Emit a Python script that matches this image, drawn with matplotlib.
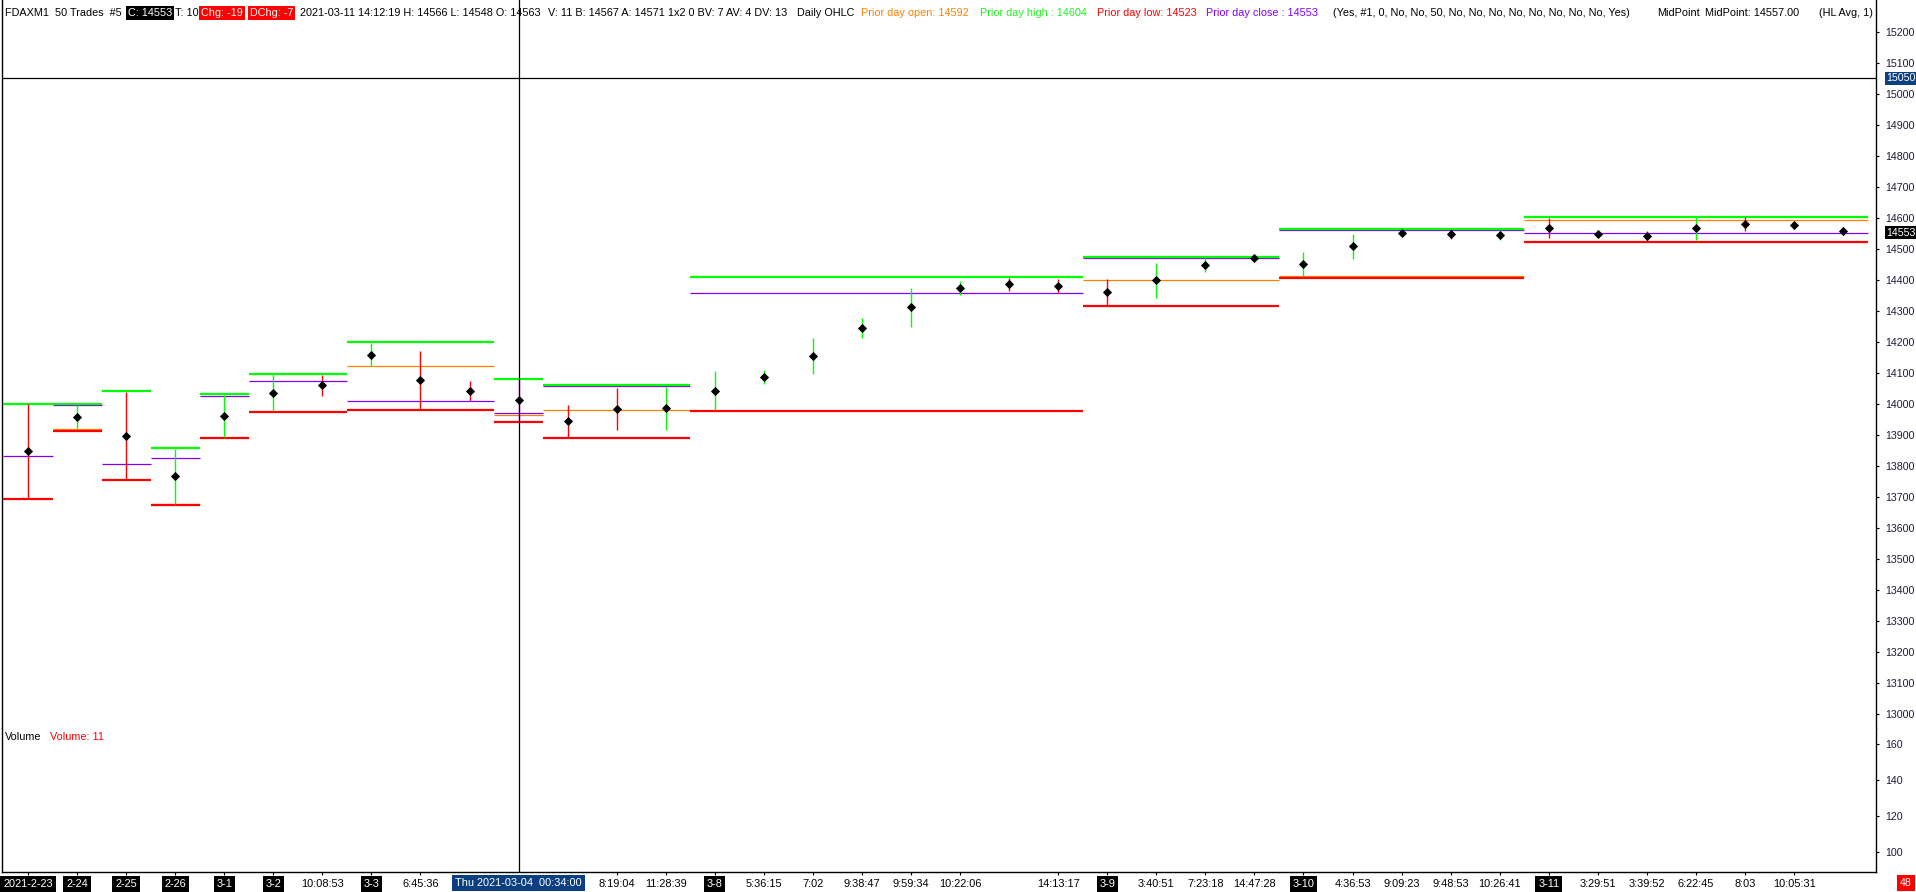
import numpy as np
import matplotlib.pyplot as plt

W, H = 1916, 892
plt.rcParams['font.family'] = ['Liberation Sans', 'DejaVu Sans']
FS = 7.7       # axis labels
FS_HEAD = 7.85  # header line

# daily "prior day" OHLC levels, one entry per session
day_names = ['2-23', '2-24', '2-25', '2-26', '3-1', '3-2', '3-3', '3-4', '3-5', '3-8', '3-9', '3-10', '3-11']
day_bars = [1, 1, 1, 1, 1, 2, 3, 1, 3, 8, 4, 5, 7]
prior_high = [14001, 14001, 14043, 13858, 14032, 14098, 14199, 14082, 14060, 14411, 14475, 14565, 14604]
prior_low = [13695, 13914, 13755, 13674, 13890, 13975, 13982, 13943, 13891, 13976, 14317, 14406, 14523]
prior_close = [13831, 13996, 13805, 13825, 14025, 14073, 14009, 13970, 14057, 14357, 14470, 14560, 14553]
prior_open = [np.nan, 13918, np.nan, 13678, np.nan, np.nan, 14122, 13963, 13980, np.nan, 14399, 14412, 14592]

# 50-trade bars
bar_high = [13999, 13996, 14040, 13856, 14030, 14096, 14094, 14196, 14171, 14074,
            14082, 13996, 14052, 14056, 14106, 14110, 14213, 14277, 14374, 14397,
            14408, 14403, 14403, 14455, 14472, 14476, 14490, 14548, 14557, 14566,
            14562, 14599, 14554, 14559, 14604, 14602, 14588, 14566]
bar_low = [13695, 13918, 13756, 13677, 13892, 13976, 14027, 14123, 13983, 14009,
           13943, 13893, 13917, 13917, 13980, 14066, 14098, 14213, 14249, 14352,
           14363, 14357, 14317, 14342, 14425, 14468, 14413, 14469, 14549, 14532,
           14530, 14536, 14544, 14526, 14529, 14558, 14565, 14548]
bar_dir = ['d', 'u', 'd', 'u', 'u', 'u', 'd', 'u', 'd', 'd',
           'm', 'd', 'd', 'u', 'u', 'u', 'u', 'u', 'u', 'u',
           'd', 'd', 'd', 'u', 'u', 'u', 'u', 'u', 'u', 'd',
           'u', 'd', 'u', 'd', 'u', 'd', 'd', 'd']

# bottom axis labels (bar index, text)
tick_pos = [0, 1, 2, 3, 4, 5, 6, 7, 8, 12, 13, 14, 15, 16, 17, 18, 19, 21,
            22, 23, 24, 25, 26, 27, 28, 29, 30, 31, 32, 33, 34, 35, 36]
tick_txt = ['2021-2-23', '2-24', '2-25', '2-26', '3-1', '3-2', '10:08:53', '3-3', '6:45:36',
            '8:19:04', '11:28:39', '3-8', '5:36:15', '7:02', '9:38:47', '9:59:34', '10:22:06',
            '14:13:17', '3-9', '3:40:51', '7:23:18', '14:47:28', '3-10', '4:36:53', '9:09:23',
            '9:48:53', '10:26:41', '3-11', '3:29:51', '3:39:52', '6:22:45', '8:03', '10:05:31']

price_ticks = list(range(13000, 15201, 100))
vol_ticks = [100, 120, 140, 160]
cross_bar = 10
cross_price = 15050
last_price = 14553

GREEN, RED, PURPLE, ORANGE = '#00ff00', '#ff0000', '#8000ff', '#ff8000'

fig = plt.figure(figsize=(W / 100, H / 100), dpi=100)
ax = fig.add_axes([2 / W, (H - 728) / H, 1874 / W, 728 / H])
axv = fig.add_axes([2 / W, (H - 872) / H, 1874 / W, 144 / H], sharex=ax)

# prior day lines
start = 0
for i, n in enumerate(day_bars):
    x0, x1 = start - 0.5, start + n - 0.5
    if not np.isnan(prior_open[i]):
        ax.hlines(prior_open[i], x0, x1, color=ORANGE, lw=0.9, zorder=2)
    ax.hlines(prior_close[i], x0, x1, color=PURPLE, lw=0.9, zorder=2)
    ax.hlines(prior_high[i], x0, x1, color=GREEN, lw=1.6, zorder=3)
    ax.hlines(prior_low[i], x0, x1, color=RED, lw=1.6, zorder=3)
    start += n

# bars: range line plus diamond at the midpoint
colors = {'u': GREEN, 'd': RED, 'm': '#ff00ff'}
xs = np.arange(len(bar_high))
hi = np.array(bar_high)
lo = np.array(bar_low)
ax.vlines(xs, lo, hi, colors=[colors[d] for d in bar_dir], lw=1.0, zorder=4)
ax.plot(xs, (hi + lo) / 2, 'D', color='black', ms=3.6, mew=0.6, zorder=5)

# crosshair
ax.axhline(cross_price, color='black', lw=0.9, zorder=6)
ax.axvline(cross_bar, color='black', lw=0.9, zorder=6)
axv.axvline(cross_bar, color='black', lw=0.9, zorder=6)

ax.set_xlim(-0.53, 37.67)
ax.set_ylim(12954.8, 15303.2)
axv.set_ylim(88.9, 168.9)

lab_col = '#1c1c3c'
for a, ticks in ((ax, price_ticks), (axv, vol_ticks)):
    a.yaxis.tick_right()
    a.set_yticks(ticks)
    a.set_yticklabels([str(t) for t in ticks])
    a.tick_params(axis='y', direction='out', length=2.5, width=0.8, pad=4,
                  labelsize=FS, labelcolor=lab_col)
    a.spines['top'].set_visible(False)
    for s in ('left', 'right', 'bottom'):
        a.spines[s].set_linewidth(1.0)
ax.spines['bottom'].set_visible(False)
ax.tick_params(axis='x', bottom=False, labelbottom=False)

axv.set_xticks(tick_pos)
axv.set_xticklabels(tick_txt)
axv.tick_params(axis='x', direction='out', length=2.5, width=0.8, pad=2.5, labelsize=7.9)
for t in axv.get_xticklabels():
    if '-' in t.get_text():
        t.set_color('white')
        t.set_bbox(dict(boxstyle='square,pad=0.25', fc='black', ec='none'))

# crosshair labels
axv.text(cross_bar, -11 / 144, 'Thu 2021-03-04  00:34:00', transform=axv.get_xaxis_transform(),
         ha='center', va='center', fontsize=7.9, color='white', clip_on=False, zorder=10,
         bbox=dict(boxstyle='square,pad=0.3', fc='#0b3f80', ec='none'))
ax.text(1.0055, cross_price, '15050', transform=ax.get_yaxis_transform(), ha='left', va='center',
        fontsize=FS, color='white', bbox=dict(boxstyle='square,pad=0.12', fc='#0b3f80', ec='none'))
ax.text(1.0055, last_price, str(last_price), transform=ax.get_yaxis_transform(), ha='left',
        va='center', fontsize=FS, color='white', bbox=dict(boxstyle='square,pad=0.12', fc='black', ec='none'))
fig.text(1906 / W, (H - 883) / H, '48', ha='center', va='center', fontsize=FS, color='white',
         bbox=dict(boxstyle='square,pad=0.25', fc='#ff0000', ec='none'))

# header line
header = [
    (5, 'FDAXM1  50 Trades  #5', 'black', None),
    (128, 'C: 14553', 'white', 'black'),
    (175, 'T: 10', 'black', None),
    (201, 'Chg: -19', 'white', '#ff0000'),
    (250, 'DChg: -7', 'white', '#ff0000'),
    (300, '2021-03-11 14:12:19 H: 14566 L: 14548 O: 14563', 'black', None),
    (548, 'V: 11 B: 14567 A: 14571 1x2 0 BV: 7 AV: 4 DV: 13', 'black', None),
    (797, 'Daily OHLC', 'black', None),
    (861, 'Prior day open: 14592', ORANGE, None),
    (980, 'Prior day high : 14604', '#22ee22', None),
    (1097, 'Prior day low: 14523', RED, None),
    (1206, 'Prior day close : 14553', PURPLE, None),
    (1333, '(Yes, #1, 0, No, No, 50, No, No, No, No, No, No, No, No, Yes)', 'black', None),
    (1657, 'MidPoint', 'black', None),
    (1705, 'MidPoint: 14557.00', 'black', None),
    (1819, '(HL Avg, 1)', 'black', None),
]
for x, s, c, bg in header:
    kw = {}
    if bg:
        kw['bbox'] = dict(boxstyle='square,pad=0.18', fc=bg, ec='none')
    ax.text(x / W, (H - 13) / H, s, transform=fig.transFigure, ha='left', va='center',
            fontsize=FS_HEAD, color=c, clip_on=True, **kw)

fig.text(5 / W, (H - 737) / H, 'Volume', ha='left', va='center', fontsize=FS_HEAD, color='black')
fig.text(50 / W, (H - 737) / H, 'Volume: 11', ha='left', va='center', fontsize=FS_HEAD, color='#ff0000')

fig.savefig('out.png', dpi=100, facecolor='white')
